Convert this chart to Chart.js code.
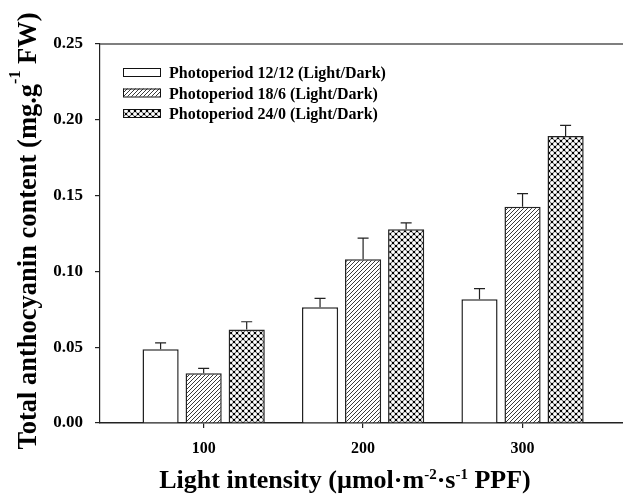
<!DOCTYPE html>
<html>
<head>
<meta charset="utf-8">
<script src="https://cdn.jsdelivr.net/npm/chart.js@4.4.1/dist/chart.umd.min.js"></script>
<style>
  html, body { margin: 0; padding: 0; background: #fff; }
  #wrap { width: 623px; height: 496px; position: relative; }
</style>
</head>
<body>
<div id="wrap"><canvas id="myChart"></canvas></div>
<script>
const intensities = [100, 200, 300];
const yTicks = [0, 0.05, 0.10, 0.15, 0.20, 0.25];
const seriesNames = ['Photoperiod 12/12 (Light/Dark)', 'Photoperiod 18/6 (Light/Dark)', 'Photoperiod 24/0 (Light/Dark)'];
const photo12 = [0.0486, 0.0763, 0.0816];
const photo18 = [0.0328, 0.1080, 0.1427];
const photo24 = [0.0616, 0.1278, 0.1893];
const err12 = [0.0042, 0.0059, 0.0070];
const err18 = [0.0032, 0.0140, 0.0086];
const err24 = [0.0052, 0.0042, 0.0070];

const serif = '"Liberation Serif", "Times New Roman", serif';
const canvas = document.getElementById('myChart');
const ctx = canvas.getContext('2d');

// fill patterns for the hatched bars
function makeTile(size, draw) {
  const c = document.createElement('canvas');
  c.width = size; c.height = size;
  const g = c.getContext('2d');
  g.fillStyle = '#fff';
  g.fillRect(0, 0, size, size);
  draw(g);
  return ctx.createPattern(c, 'repeat');
}
const hatch = makeTile(4, g => {
  g.strokeStyle = '#3a3a3a';
  g.lineWidth = 1;
  g.beginPath();
  g.moveTo(0, 4); g.lineTo(4, 0);
  g.moveTo(-1, 1); g.lineTo(1, -1);
  g.moveTo(3, 5); g.lineTo(5, 3);
  g.stroke();
});
const cross = makeTile(6, g => {
  g.strokeStyle = '#6e6e6e';
  g.lineWidth = 1.2;
  g.beginPath();
  g.moveTo(0, 0); g.lineTo(6, 6);
  g.moveTo(6, 0); g.lineTo(0, 6);
  g.stroke();
  g.fillStyle = '#000';
  g.fillRect(2, 2, 2, 2);
  g.fillRect(0, 0, 1, 1); g.fillRect(5, 0, 1, 1);
  g.fillRect(0, 5, 1, 1); g.fillRect(5, 5, 1, 1);
});

const fills = ['#ffffff', hatch, cross];
const values = [photo12, photo18, photo24];
const errors = [err12, err18, err24];

function toPoints(vals) {
  return intensities.map((x, i) => ({ x: x, y: vals[i] }));
}

// up-only error bars with caps
const errorBars = {
  id: 'errorBars',
  afterDatasetsDraw(chart) {
    const c = chart.ctx;
    const y = chart.scales.y;
    c.save();
    c.strokeStyle = '#222';
    c.lineWidth = 1.2;
    chart.data.datasets.forEach((ds, di) => {
      chart.getDatasetMeta(di).data.forEach((bar, i) => {
        const top = y.getPixelForValue(values[di][i] + errors[di][i]);
        c.beginPath();
        c.moveTo(bar.x, bar.y);
        c.lineTo(bar.x, top);
        c.moveTo(bar.x - 5.5, top);
        c.lineTo(bar.x + 5.5, top);
        c.stroke();
      });
    });
    c.restore();
  }
};

// legend inside the plot, top frame line, axis titles with superscripts
function richText(c, parts, x, y) {
  let total = 0;
  parts.forEach(p => { c.font = 'bold ' + p[1] + 'px ' + serif; total += c.measureText(p[0]).width; });
  let cx = x - total / 2;
  parts.forEach(p => {
    c.font = 'bold ' + p[1] + 'px ' + serif;
    c.fillText(p[0], cx, y - p[2]);
    cx += c.measureText(p[0]).width;
  });
}

const decorations = {
  id: 'decorations',
  afterDraw(chart) {
    const c = chart.ctx;
    const a = chart.chartArea;
    c.save();
    c.strokeStyle = '#555';
    c.lineWidth = 1.5;
    c.beginPath();
    c.moveTo(a.left, a.top);
    c.lineTo(a.right, a.top);
    c.stroke();

    c.fillStyle = '#000';
    c.textBaseline = 'alphabetic';
    c.textAlign = 'left';
    seriesNames.forEach((name, i) => {
      const ty = 68 + i * 20.5;
      c.fillStyle = fills[i];
      c.fillRect(123, ty, 38, 8);
      c.strokeStyle = '#111';
      c.lineWidth = 1;
      c.strokeRect(123.5, ty + 0.5, 37, 8);
      c.fillStyle = '#000';
      c.font = 'bold 16px ' + serif;
      c.fillText(name, 169, ty + 10);
    });

    richText(c, [['Light intensity (\u00b5mol\u00b7m', 26, 0], ['-2', 15, 9], ['\u00b7s', 26, 0], ['-1', 15, 9], [' PPF)', 26, 0]], 345, 488);

    c.translate(36, 231);
    c.rotate(-Math.PI / 2);
    richText(c, [['Total anthocyanin content (mg.g', 26.5, 0], ['-1', 16, 16], [' FW)', 26.5, 0]], 0, 0);
    c.restore();
  }
};

new Chart(canvas, {
  type: 'bar',
  data: {
    datasets: seriesNames.map((name, i) => ({
      label: name,
      data: toPoints(values[i]),
      backgroundColor: fills[i],
      borderColor: '#222',
      borderWidth: 1.5,
      categoryPercentage: 0.81,
      barPercentage: 0.84
    }))
  },
  options: {
    responsive: true,
    maintainAspectRatio: false,
    animation: false,
    layout: { padding: { top: 44, right: 0, left: 0, bottom: 0 } },
    plugins: {
      legend: { display: false },
      tooltip: { enabled: false }
    },
    scales: {
      x: {
        type: 'linear',
        min: 35,
        max: 363,
        offset: false,
        afterBuildTicks: s => { s.ticks = intensities.map(v => ({ value: v })); },
        afterFit: s => { s.height = 73; },
        border: { display: true, color: '#222', width: 1.5 },
        grid: { display: true, offset: false, drawOnChartArea: false, drawTicks: true, tickLength: 5, color: '#222', lineWidth: 1.2 },
        ticks: {
          color: '#000',
          padding: 11,
          maxRotation: 0,
          font: { family: serif, size: 16, weight: 'bold' },
          callback: v => String(v)
        }
      },
      y: {
        min: 0,
        max: 0.25,
        afterBuildTicks: s => { s.ticks = yTicks.map(v => ({ value: v })); },
        afterFit: s => { s.width = 100; },
        border: { display: true, color: '#222', width: 1.2 },
        grid: { display: true, drawOnChartArea: false, drawTicks: true, tickLength: 5, color: '#222', lineWidth: 1.2 },
        ticks: {
          color: '#000',
          padding: 12,
          font: { family: serif, size: 17, weight: 'bold' },
          callback: v => v.toFixed(2)
        }
      }
    }
  },
  plugins: [errorBars, decorations]
});
</script>
</body>
</html>
